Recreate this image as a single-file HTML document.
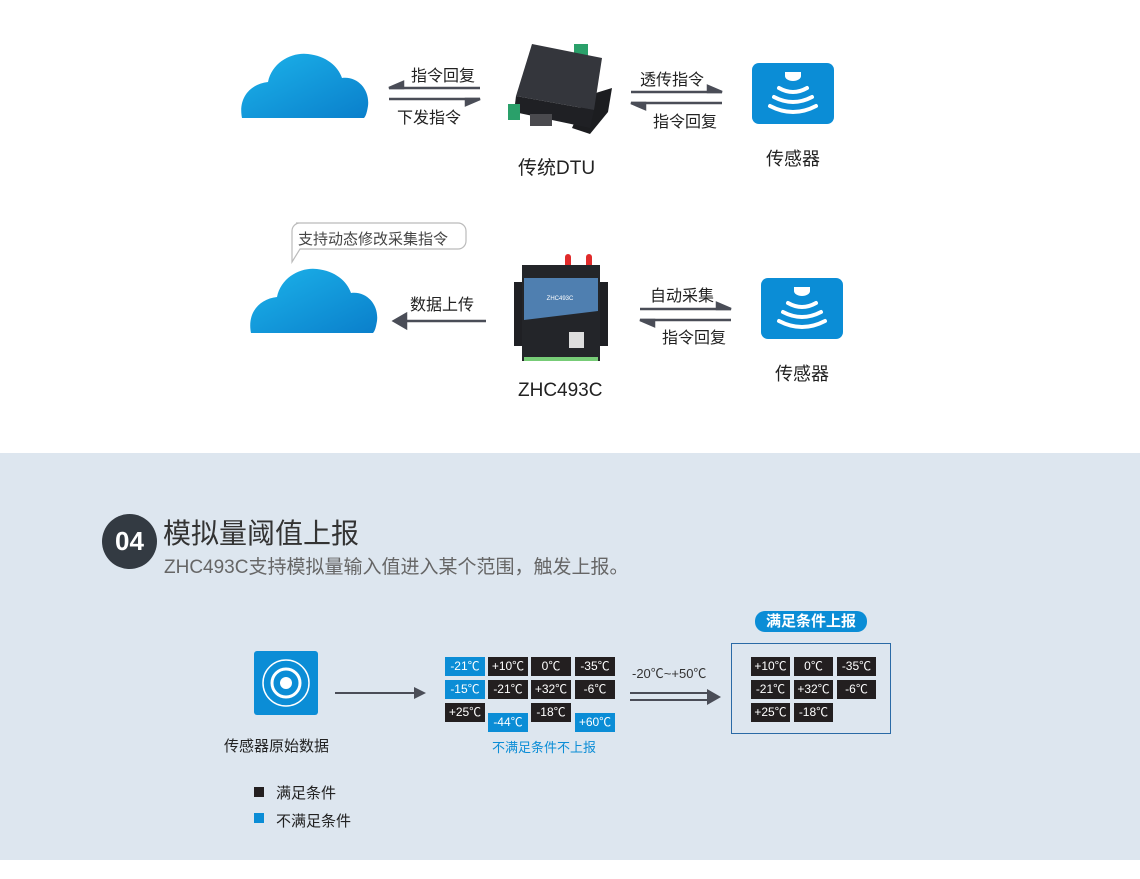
<!DOCTYPE html>
<html><head><meta charset="utf-8"><style>
*{margin:0;padding:0;box-sizing:border-box}
body{width:1140px;height:879px;position:relative;background:#fff;font-family:"Liberation Sans","Noto Sans CJK SC",sans-serif;overflow:hidden}
.a{position:absolute}
.t{position:absolute;white-space:nowrap;color:#222}
.c{position:absolute;width:40px;height:19px;background:#231f20;color:#fff;font-size:12px;text-align:center;line-height:19px}
.b{background:#0b8dd6}
</style></head><body>
<div class="a" style="left:0;top:453px;width:1140px;height:407px;background:#dde6ef"></div>

<svg class="a" style="left:0;top:0" width="1140" height="453">
<defs>
<linearGradient id="cg" x1="0" y1="0" x2="1" y2="1"><stop offset="0" stop-color="#1cb3ea"/><stop offset="1" stop-color="#0a7fcb"/></linearGradient>
<g id="cloud"><path d="M0,66 C-4,46 8,32 26,30 C30,10 50,0 66,2 C84,4 96,14 100,26 C116,24 128,38 126,54 C125,60 124,64 122,66 Z" fill="url(#cg)"/></g>
<g id="wave" fill="none" stroke="#fff" stroke-width="4" stroke-linecap="round">
<path d="M33,9 h16 v4 a8,5 0 0 1 -16,0z" fill="#fff" stroke="none"/>
<path d="M27,25 q14,8 28,0"/><path d="M22,34 q19,10 38,0"/><path d="M18,43 q23,12 46,0"/></g>
</defs>
<use href="#cloud" x="242" y="52"/>
<use href="#cloud" x="251" y="267"/>
<g stroke="#4a4d57" stroke-width="2.5" fill="#4a4d57">
<line x1="389" y1="88" x2="480" y2="88"/><path d="M389,88 l14,-6 v6z"/>
<line x1="389" y1="99" x2="480" y2="99"/><path d="M480,99 l-14,6 v-6z"/>
<line x1="631" y1="92" x2="722" y2="92"/><path d="M722,92 l-14,-6 v6z"/>
<line x1="631" y1="103" x2="722" y2="103"/><path d="M631,103 l14,6 v-6z"/>
<line x1="640" y1="309" x2="731" y2="309"/><path d="M731,309 l-14,-6 v6z"/>
<line x1="640" y1="320" x2="731" y2="320"/><path d="M640,320 l14,6 v-6z"/>
<line x1="405" y1="321" x2="486" y2="321"/><path d="M394,321 l12,-7 v14z"/>
</g>
<!-- DTU -->
<g>
<rect x="574" y="44" width="14" height="12" fill="#2aa06a"/>
<path d="M586,96 L612,88 L608,112 L590,134 L572,128Z" fill="#1c1d20"/>
<path d="M532,44 L602,58 L594,110 L516,96 Z" fill="#34363c"/>
<path d="M516,96 L594,110 L590,128 L514,112 Z" fill="#1f2024"/>
<rect x="508" y="104" width="12" height="16" fill="#2aa06a"/>
<rect x="530" y="114" width="22" height="12" fill="#4a4a4e"/>
</g>
<!-- ZHC493C -->
<g>
<rect x="565" y="254" width="6" height="14" rx="3" fill="#e02a2a"/><rect x="586" y="254" width="6" height="14" rx="3" fill="#e02a2a"/>
<rect x="514" y="282" width="94" height="64" fill="#1f2024"/>
<rect x="522" y="265" width="78" height="96" fill="#232529"/>
<path d="M524,278 H598 V311 L524,320Z" fill="#4f7fb0"/>
<rect x="569" y="332" width="15" height="16" fill="#ddd"/>
<rect x="524" y="357" width="74" height="4" fill="#7c7"/>
<text x="560" y="300" font-size="6" fill="#fff" text-anchor="middle">ZHC493C</text>
</g>
<g transform="translate(752,63)"><rect width="82" height="61" rx="7" fill="#0b8dd6"/><use href="#wave"/></g>
<g transform="translate(761,278)"><rect width="82" height="61" rx="7" fill="#0b8dd6"/><use href="#wave"/></g>
<path d="M296,223 H458 a8,8 0 0 1 8,8 v10 a8,8 0 0 1 -8,8 H300 L292,262 V231 a8,8 0 0 1 8,-8z" fill="#fff" stroke="#bbb" stroke-width="1.2"/>
</svg>

<div class="t" style="left:411px;top:62px;font-size:16px">指令回复</div>
<div class="t" style="left:397px;top:104px;font-size:16px">下发指令</div>
<div class="t" style="left:640px;top:66px;font-size:16px">透传指令</div>
<div class="t" style="left:653px;top:108px;font-size:16px">指令回复</div>
<div class="t" style="left:518px;top:153px;font-size:19px">传统DTU</div>
<div class="t" style="left:766px;top:145px;font-size:18px">传感器</div>
<div class="t" style="left:298px;top:228px;font-size:15px;color:#444">支持动态修改采集指令</div>
<div class="t" style="left:410px;top:291px;font-size:16px">数据上传</div>
<div class="t" style="left:650px;top:282px;font-size:16px">自动采集</div>
<div class="t" style="left:662px;top:324px;font-size:16px">指令回复</div>
<div class="t" style="left:518px;top:380px;font-size:19px">ZHC493C</div>
<div class="t" style="left:775px;top:360px;font-size:18px">传感器</div>

<div class="a" style="left:102px;top:514px;width:55px;height:55px;border-radius:50%;background:#333a42;color:#fff;font-weight:bold;font-size:26px;text-align:center;line-height:55px">04</div>
<div class="t" style="left:163px;top:512px;font-size:28px;color:#333">模拟量阈值上报</div>
<div class="t" style="left:164px;top:552px;font-size:19px;color:#666">ZHC493C支持模拟量输入值进入某个范围，触发上报。</div>

<div class="a" style="left:254px;top:651px;width:64px;height:64px;background:#0b8dd6;border-radius:3px"></div>
<svg class="a" style="left:254px;top:651px" width="64" height="64"><circle cx="32" cy="32" r="23" fill="none" stroke="#fff" stroke-width="1.5"/><circle cx="32" cy="32" r="14" fill="none" stroke="#fff" stroke-width="3"/><circle cx="32" cy="32" r="6" fill="#fff"/></svg>
<div class="t" style="left:224px;top:735px;font-size:15px">传感器原始数据</div>
<div class="a" style="left:254px;top:787px;width:10px;height:10px;background:#231f20"></div>
<div class="t" style="left:276px;top:782px;font-size:15px">满足条件</div>
<div class="a" style="left:254px;top:813px;width:10px;height:10px;background:#0b8dd6"></div>
<div class="t" style="left:276px;top:810px;font-size:15px">不满足条件</div>

<svg class="a" style="left:0;top:0" width="1140" height="879">
<line x1="335" y1="693" x2="414" y2="693" stroke="#4a4d57" stroke-width="2"/><path d="M426,693 l-12,-6 v12z" fill="#4a4d57"/>
<line x1="630" y1="693" x2="708" y2="693" stroke="#4a4d57" stroke-width="2"/>
<line x1="630" y1="700" x2="708" y2="700" stroke="#4a4d57" stroke-width="2"/>
<path d="M721,697 l-14,-8 v16z" fill="#4a4d57"/>
<rect x="731.5" y="643.5" width="159" height="90" fill="none" stroke="#2a6aa6" stroke-width="1"/>
</svg>
<div class="t" style="left:632px;top:663px;font-size:13px;color:#333">-20℃~+50℃</div>

<div class="c b" style="left:445px;top:657px">-21℃</div>
<div class="c" style="left:488px;top:657px">+10℃</div>
<div class="c" style="left:531px;top:657px">0℃</div>
<div class="c" style="left:575px;top:657px">-35℃</div>
<div class="c b" style="left:445px;top:680px">-15℃</div>
<div class="c" style="left:488px;top:680px">-21℃</div>
<div class="c" style="left:531px;top:680px">+32℃</div>
<div class="c" style="left:575px;top:680px">-6℃</div>
<div class="c" style="left:445px;top:703px">+25℃</div>
<div class="c b" style="left:488px;top:713px">-44℃</div>
<div class="c" style="left:531px;top:703px">-18℃</div>
<div class="c b" style="left:575px;top:713px">+60℃</div>
<div class="t" style="left:492px;top:737px;font-size:13px;color:#0b8dd6">不满足条件不上报</div>

<div class="a" style="left:755px;top:611px;width:112px;height:21px;border-radius:10px;background:#0b8dd6;color:#fff;font-size:15px;text-align:center;line-height:21px;font-weight:bold">满足条件上报</div>
<div class="c" style="left:751px;top:657px;width:39px">+10℃</div>
<div class="c" style="left:794px;top:657px;width:39px">0℃</div>
<div class="c" style="left:837px;top:657px;width:39px">-35℃</div>
<div class="c" style="left:751px;top:680px;width:39px">-21℃</div>
<div class="c" style="left:794px;top:680px;width:39px">+32℃</div>
<div class="c" style="left:837px;top:680px;width:39px">-6℃</div>
<div class="c" style="left:751px;top:703px;width:39px">+25℃</div>
<div class="c" style="left:794px;top:703px;width:39px">-18℃</div>
</body></html>
